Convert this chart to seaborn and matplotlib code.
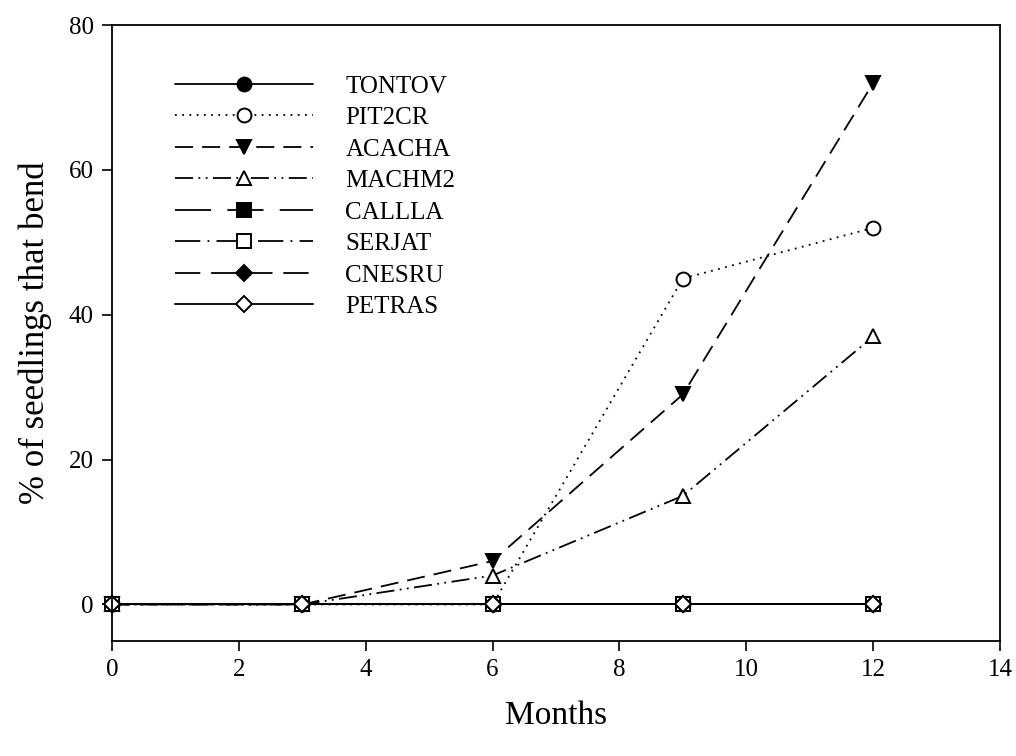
import matplotlib
matplotlib.use("Agg")
import matplotlib.pyplot as plt
import seaborn as sns
import pandas as pd

sns.set_theme(style="ticks")
plt.rcParams["font.family"] = ["Liberation Serif", "DejaVu Serif"]

months = [0, 3, 6, 9, 12]
species = ["TONTOV", "PIT2CR", "ACACHA", "MACHM2", "CALLLA", "SERJAT", "CNESRU", "PETRAS"]
tontov = [0, 0, 0, 0, 0]
pit2cr = [0, 0, 0, 45, 52]
acacha = [0, 0, 6, 29, 72]
machm2 = [0, 0, 4, 15, 37]
callla = [0, 0, 0, 0, 0]
serjat = [0, 0, 0, 0, 0]
cnesru = [0, 0, 0, 0, 0]
petras = [0, 0, 0, 0, 0]
values = [tontov, pit2cr, acacha, machm2, callla, serjat, cnesru, petras]

styles = {
    "TONTOV": dict(marker="o", mfc="black", ls="-"),
    "PIT2CR": dict(marker="o", mfc="white", ls=(0, (1, 3))),
    "ACACHA": dict(marker="v", mfc="black", ls=(0, (10, 5))),
    "MACHM2": dict(marker="^", mfc="white", ls=(0, (10, 3, 1, 3, 1, 3))),
    "CALLLA": dict(marker="s", mfc="black", ls=(0, (20, 9))),
    "SERJAT": dict(marker="s", mfc="white", ls=(0, (14, 4, 1, 4))),
    "CNESRU": dict(marker="D", mfc="black", ls=(0, (14, 6))),
    "PETRAS": dict(marker="D", mfc="white", ls="-"),
}

df = pd.DataFrame({"Months": months * len(species),
                   "pct": sum(values, []),
                   "species": [s for s in species for _ in months]})

fig = plt.figure(figsize=(10.16, 7.56), dpi=100)
ax = fig.add_axes([0.1102, 0.1525, 0.8741, 0.8144])

for sp in species:
    st = styles[sp]
    ms = 8.5 if st["marker"] == "D" else 10
    sns.lineplot(data=df[df["species"] == sp], x="Months", y="pct", ax=ax,
                 color="black", linewidth=1.3, linestyle=st["ls"],
                 marker=st["marker"], markersize=ms, markerfacecolor=st["mfc"],
                 markeredgecolor="black", markeredgewidth=1.4, label=sp,
                 clip_on=False)

ax.set_xlim(0, 14)
ax.set_ylim(-5, 80)
ax.set_xticks(range(0, 15, 2))
ax.set_yticks(range(0, 81, 20))
for side in ["top", "right", "left", "bottom"]:
    ax.spines[side].set_visible(True)
    ax.spines[side].set_linewidth(1.3)
    ax.spines[side].set_color("black")
ax.tick_params(axis="both", direction="out", length=7, width=1.2,
               labelsize=18, colors="black", top=False, right=False, pad=6)
ax.set_xlabel("Months", fontsize=24, labelpad=14, color="black")
ax.set_ylabel("% of seedlings that bend", fontsize=25, labelpad=12, color="black")

leg = ax.legend(loc="upper left", bbox_to_anchor=(0.046, 0.955), frameon=False,
                fontsize=18, handlelength=5.5, handletextpad=1.3, labelspacing=0.36)
for t in leg.get_texts():
    t.set_color("black")

fig.savefig("out.png", dpi=100)
